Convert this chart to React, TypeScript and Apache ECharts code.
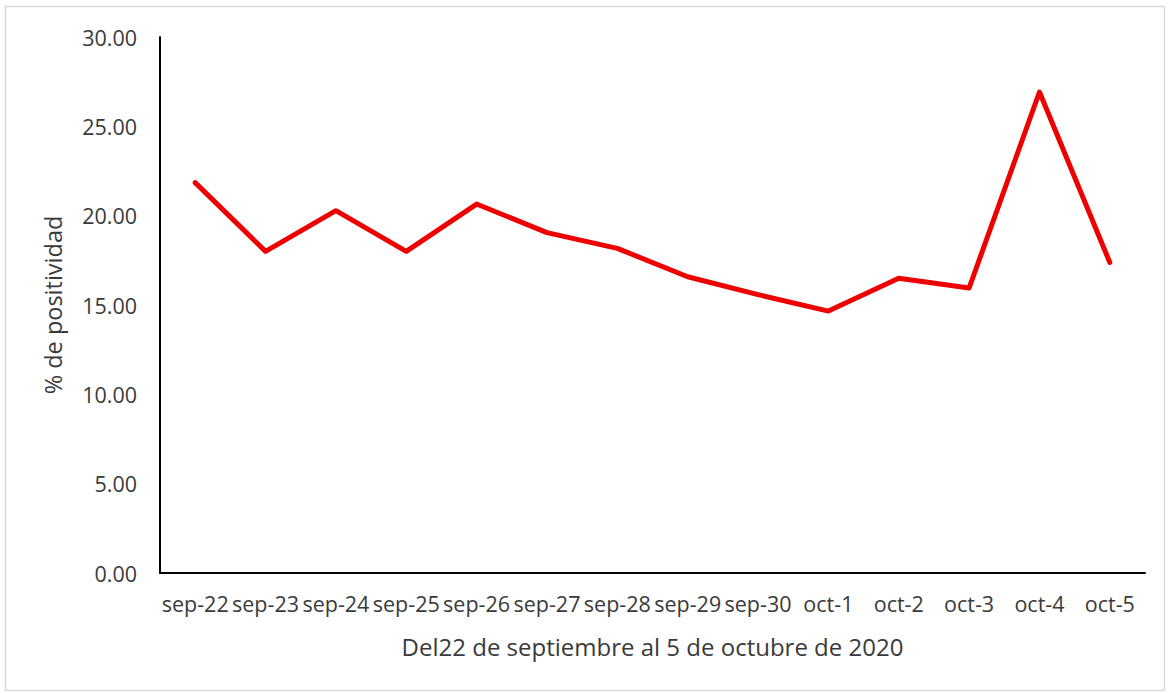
import React, { useEffect, useRef } from "react";
import * as echarts from "echarts";

const categories = [
  "sep-22", "sep-23", "sep-24", "sep-25", "sep-26", "sep-27", "sep-28",
  "sep-29", "sep-30", "oct-1", "oct-2", "oct-3", "oct-4", "oct-5",
];
const positividad = [
  21.85, 18.0, 20.28, 18.0, 20.65, 19.05, 18.17,
  16.58, 15.58, 14.66, 16.5, 15.95, 26.92, 17.38,
];
const yTicks = { min: 0, max: 30, interval: 5 };
const xAxisTitle = "Del22 de septiembre al 5 de octubre de 2020";
const yAxisTitle = "% de positividad";

const FONT = "'Open Sans', sans-serif";
const TEXT = "#3a3a3a";

export default function App() {
  const ref = useRef<HTMLDivElement>(null);
  useEffect(() => {
    if (!ref.current) return;
    const chart = echarts.init(ref.current, null, { renderer: "svg" });
    chart.setOption({
      animation: false,
      backgroundColor: "#ffffff",
      graphic: [
        {
          type: "rect",
          shape: { x: 5.5, y: 6.5, width: 1159, height: 684 },
          style: { fill: "none", stroke: "#d9d9d9", lineWidth: 1.5 },
          silent: true,
        },
      ],
      grid: { left: 160, right: 26, top: 37, bottom: 120, containLabel: false },
      xAxis: {
        type: "category",
        data: categories,
        boundaryGap: true,
        axisLine: { show: true, lineStyle: { color: "#000", width: 2 } },
        axisTick: { show: false },
        axisLabel: {
          color: TEXT,
          fontFamily: FONT,
          fontSize: 21.5,
          margin: 19,
          interval: 0,
        },
        name: xAxisTitle,
        nameLocation: "middle",
        nameGap: 61,
        nameTextStyle: { color: TEXT, fontFamily: FONT, fontSize: 24 },
      },
      yAxis: {
        type: "value",
        min: yTicks.min,
        max: yTicks.max,
        interval: yTicks.interval,
        axisLine: { show: true, lineStyle: { color: "#000", width: 2 } },
        axisTick: { show: false },
        splitLine: { show: false },
        axisLabel: {
          color: TEXT,
          fontFamily: FONT,
          fontSize: 21.5,
          margin: 23,
          formatter: (v: number) => v.toFixed(2),
        },
        name: yAxisTitle,
        nameLocation: "middle",
        nameGap: 95,
        nameRotate: 90,
        nameTextStyle: { color: TEXT, fontFamily: FONT, fontSize: 23.5 },
      },
      series: [
        {
          type: "line",
          data: positividad,
          symbol: "none",
          lineStyle: { color: "#ee0000", width: 5, join: "round", cap: "round" },
        },
      ],
    });
    return () => chart.dispose();
  }, []);
  return (
    <div
      ref={ref}
      style={{ position: "fixed", left: 0, top: 0, width: 1171, height: 693 }}
    />
  );
}
